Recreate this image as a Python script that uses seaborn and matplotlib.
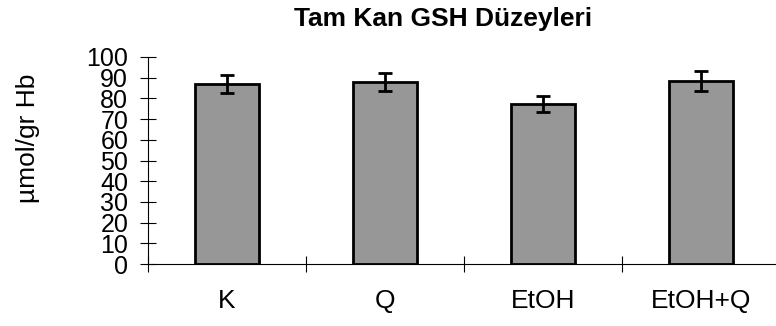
import pandas as pd
import seaborn as sns
import matplotlib.pyplot as plt
from matplotlib.ticker import FixedLocator

groups = ['K', 'Q', 'EtOH', 'EtOH+Q']
gsh_mean = [87.0, 87.8, 77.3, 88.4]
gsh_err = [4.4, 4.4, 3.9, 4.6]
y_ticks = list(range(0, 101, 10))

df = pd.DataFrame({'Grup': groups, 'GSH': gsh_mean})

sns.set_theme(style="white")
plt.rcParams['font.family'] = ['Liberation Sans', 'DejaVu Sans']
plt.rcParams['text.color'] = 'black'
plt.rcParams['xtick.color'] = 'black'
plt.rcParams['ytick.color'] = 'black'

fig = plt.figure(figsize=(7.76, 3.26), dpi=100)
ax = fig.add_axes([148 / 776, 1 - 264 / 326, 632 / 776, 207 / 326])

sns.barplot(data=df, x='Grup', y='GSH', color='#979797', saturation=1,
            width=0.405, edgecolor='black', linewidth=2, errorbar=None, ax=ax)
ax.errorbar(x=range(len(groups)), y=gsh_mean, yerr=gsh_err, fmt='none',
            ecolor='black', elinewidth=2, capsize=5, capthick=2)

ax.set_xlim(-0.5, len(groups) - 0.5)
ax.set_ylim(0, 100)
ax.set_yticks(y_ticks)
ax.set_xlabel('')
ax.set_ylabel('')
ax.xaxis.set_minor_locator(FixedLocator([i - 0.5 for i in range(len(groups) + 1)]))

for s in ['top', 'right']:
    ax.spines[s].set_visible(False)
for s in ['left', 'bottom']:
    ax.spines[s].set_linewidth(0.8)
    ax.spines[s].set_color('black')

ax.tick_params(axis='y', which='major', direction='inout', length=11.5, width=0.8,
               color='black', labelcolor='black', labelsize=18, pad=8.5, left=True)
ax.tick_params(axis='x', which='major', length=0, labelsize=19, labelcolor='black', pad=18)
ax.tick_params(axis='x', which='minor', direction='inout', length=11, width=0.8,
               color='black', bottom=True)

fig.text(443 / 776, 1 - 19 / 326, 'Tam Kan GSH Düzeyleri', ha='center', va='center',
         fontsize=19, fontweight='bold', color='black')
fig.text(28 / 776, 1 - 138 / 326, 'µmol/gr Hb', ha='center', va='center',
         rotation=90, fontsize=19, color='black')

fig.savefig('out.png', dpi=100)
